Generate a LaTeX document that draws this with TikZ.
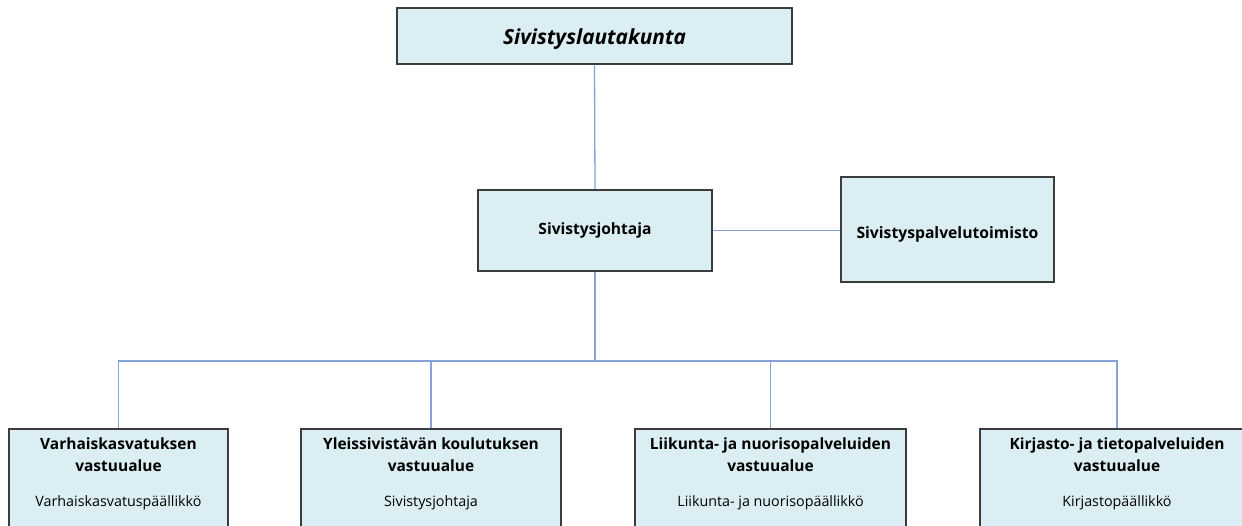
\documentclass[tikz,border=0pt]{standalone}
\usepackage{fontspec}
\setmainfont{Open Sans}
\definecolor{boxfill}{RGB}{218,238,243}
\definecolor{boxline}{RGB}{60,60,60}
\definecolor{conn}{RGB}{132,162,216}
\begin{document}
\begin{tikzpicture}[x=1pt,y=-1pt,
  orgbox/.style={draw=boxline, line width=1.6pt, fill=boxfill, inner sep=0pt},
  link/.style={draw=conn, line width=1.3pt},
  headtext/.style={font=\fontsize{15.5}{22}\selectfont\bfseries, align=center, anchor=north, inner sep=0pt},
  subtext/.style={font=\fontsize{14.3}{17}\selectfont, anchor=center, inner sep=0pt}]
\useasboundingbox (0,0) rectangle (1242,526);
\clip (0,0) rectangle (1242,526);
\fill[white] (0,0) rectangle (1242,526);

\node[orgbox, minimum width=395pt, minimum height=56pt,
      font=\fontsize{20.8}{24}\selectfont\bfseries\itshape] (lauta) at (594.5,36) {\raisebox{-8.5pt}[0pt][0pt]{Sivistyslautakunta}};
\node[orgbox, minimum width=234pt, minimum height=81pt,
      font=\fontsize{15.6}{18}\selectfont\bfseries] (johtaja) at (595,230.5) {Sivistysjohtaja};
\node[orgbox, minimum width=213pt, minimum height=105pt,
      font=\fontsize{15.7}{18}\selectfont\bfseries] (toimisto) at (947.5,229.5) {\raisebox{-9pt}[0pt][0pt]{Sivistyspalvelutoimisto}};

\node[orgbox, minimum width=219pt, minimum height=131pt] (b1) at (118.5,494.5) {};
\node[orgbox, minimum width=260pt, minimum height=131pt] (b2) at (431,494.5) {};
\node[orgbox, minimum width=271pt, minimum height=131pt] (b3) at (770.5,494.5) {};
\node[orgbox, minimum width=274pt, minimum height=131pt] (b4) at (1117,494.5) {};

\node[headtext] (t1) at ([yshift=-9pt]b1.north) {Varhaiskasvatuksen\\vastuualue};
\node[headtext] (t2) at ([yshift=-9pt]b2.north) {Yleissivistävän koulutuksen\\vastuualue};
\node[headtext] (t3) at ([yshift=-9pt]b3.north) {Liikunta- ja nuorisopalveluiden\\vastuualue};
\node[headtext] (t4) at ([yshift=-9pt]b4.north) {Kirjasto- ja tietopalveluiden\\vastuualue};

\node[subtext] (s1) at (b1.north |- 0,503) {Varhaiskasvatuspäällikkö};
\node[subtext] (s2) at (b2.north |- 0,503) {Sivistysjohtaja};
\node[subtext] (s3) at (b3.north |- 0,503) {Liikunta- ja nuorisopäällikkö};
\node[subtext] (s4) at (b4.north |- 0,503) {Kirjastopäällikkö};

\coordinate (bus) at (595,361);
\draw[link] (lauta.south) -- (johtaja.north);
\draw[link] (johtaja.east) -- (johtaja.east -| toimisto.west);
\draw[link] (johtaja.south) -- (bus);
\draw[link] (b1.north) |- (b4.north |- bus) -- (b4.north);
\draw[link] (b2.north) -- (b2.north |- bus);
\draw[link] (b3.north) -- (b3.north |- bus);
\end{tikzpicture}
\end{document}
